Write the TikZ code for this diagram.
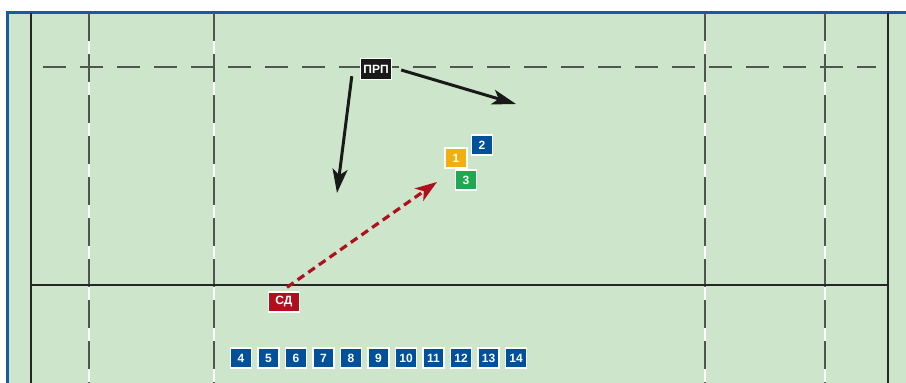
\documentclass[tikz,border=0pt]{standalone}
\usepackage{fontspec}
\setmainfont{Liberation Sans}
\usetikzlibrary{arrows.meta}
\definecolor{field}{HTML}{CDE5CA}
\definecolor{edge}{HTML}{1A5AA0}
\definecolor{pblue}{HTML}{00509C}
\definecolor{pyellow}{HTML}{F0B010}
\definecolor{pgreen}{HTML}{20A850}
\definecolor{pred}{HTML}{B0101E}
\definecolor{lgray}{HTML}{505550}
\tikzset{
  tag/.style={draw=white, line width=1.4pt, text=white, font=\bfseries\fontsize{12}{13}\selectfont,
    minimum height=20pt, minimum width=21pt, inner sep=1pt, anchor=center},
  bluetag/.style={tag, fill=pblue},
  solidline/.style={line width=2.3pt, draw=black!85},
  vdash/.style={line width=2pt, draw=lgray, dash pattern=on 28pt off 13pt},
  hdash/.style={line width=1.9pt, draw=lgray, dash pattern=on 23pt off 14pt},
  runarrow/.style={line width=3pt, draw=black!90, -{Stealth[length=24pt,width=15pt,inset=6pt]}},
  passarrow/.style={line width=3.2pt, draw=pred, dash pattern=on 8pt off 5pt, -{Stealth[length=22pt,width=15pt,inset=6pt]}}
}
\begin{document}
\begin{tikzpicture}[x=1pt,y=-1pt]
\useasboundingbox (0,0) rectangle (906,383);
\fill[white] (0,0) rectangle (906,383);
\fill[field] (8,13) rectangle (906,383);
\draw[edge, line width=3pt] (7,383) -- (7,12) -- (906,12);
% dashed verticals (white gaps)
\foreach \x in {89,214,705,825} {
  \draw[white, line width=2pt] (\x,13) -- (\x,383);
  \draw[vdash] (\x,13) -- (\x,383);
}
% horizontal dashed
\draw[hdash] (43,67) -- (876,67);
% solid lines
\draw[solidline] (31,13) -- (31,383);
\draw[solidline] (888,13) -- (888,383);
\draw[solidline] (31,285) -- (888,285);
% nodes
\node[tag, fill=black!90, minimum width=31pt, minimum height=21pt] (prp) at (376,69) {ПРП};
\node[tag, fill=pyellow, minimum width=22pt] (p1) at (456,158) {1};
\node[bluetag] (p2) at (482,145) {2};
\node[tag, fill=pgreen] (p3) at (466,180) {3};
\node[tag, fill=pred, minimum width=31pt] (sd) at (284,302) {СД};
\foreach \n [count=\i from 0] in {4,5,6,7,8,9,10,11,12,13,14} {
  \node[bluetag] (b\n) at ({241+27.5*\i},358) {\n};
}
% arrow targets
\coordinate (r1) at (337,193);
\coordinate (r2) at (516,104);
\coordinate (ps) at (437,182);
\draw[runarrow] ([shift={(-8,-4)}]prp.south west) -- (r1);
\draw[runarrow] ([shift={(9,1)}]prp.east) -- (r2);
\draw[passarrow] ([shift={(3,-4)}]sd.north) -- (ps);
\end{tikzpicture}
\end{document}
